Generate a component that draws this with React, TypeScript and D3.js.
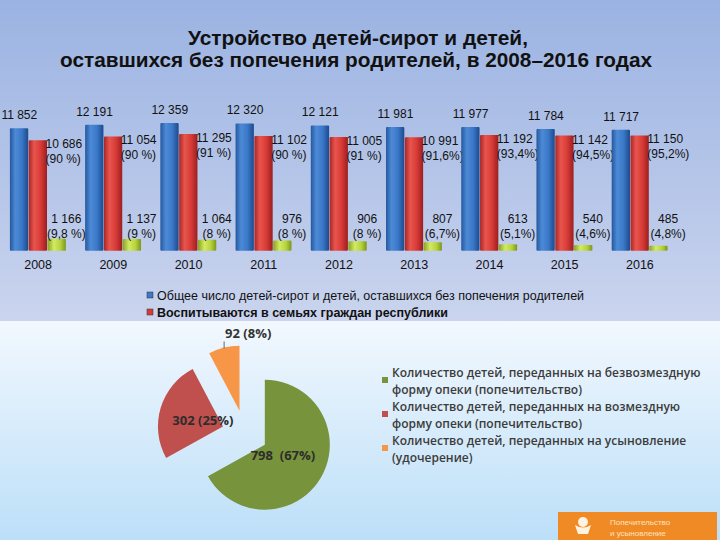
import React from 'react';
import * as d3 from 'd3';

// bar chart data
const years = ['2008', '2009', '2010', '2011', '2012', '2013', '2014', '2015', '2016'];
const totalOrphans = [11852, 12191, 12359, 12320, 12121, 11981, 11977, 11784, 11717];
const inFamilies = [10686, 11054, 11295, 11102, 11005, 10991, 11192, 11142, 11150];
const inFamiliesShare = ['(90 %)', '(90 %)', '(91 %)', '(90 %)', '(91 %)', '(91,6%)', '(93,4%)', '(94,5%)', '(95,2%)'];
const inInstitutions = [1166, 1137, 1064, 976, 906, 807, 613, 540, 485];
const inInstitutionsShare = ['(9,8 %)', '(9 %)', '(8 %)', '(8 %)', '(8 %)', '(6,7%)', '(5,1%)', '(4,6%)', '(4,8%)'];
const barLegend = [
  'Общее число детей-сирот и детей, оставшихся без попечения родителей',
  'Воспитываются в семьях граждан республики',
];
const titleLines = ['Устройство детей-сирот и детей,', 'оставшихся без попечения родителей, в 2008–2016 годах'];

// pie data
const placementCounts = [798, 302, 92];
const placementLegend = [
  ['Количество детей, переданных на безвозмездную', 'форму опеки (попечительство)'],
  ['Количество детей, переданных на возмездную', 'форму опеки (попечительство)'],
  ['Количество детей, переданных на усыновление', '(удочерение)'],
];

const W = 720;
const H = 540;
const fmt = d3.formatLocale({ decimal: ',', thousands: ' ', grouping: [3], currency: ['', ''] }).format(',');

const barColors = ['blue', 'red', 'green'];
const pieColors = ['#77933c', '#c0504d', '#f79646'];

export default function App() {
  const x0 = d3.scaleBand().domain(years).range([0.5, 677.5]).paddingInner(0.25).paddingOuter(0.125);
  const x1 = d3.scaleBand().domain(['0', '1', '2']).range([0, x0.bandwidth()]);
  const y = d3.scaleLinear().domain([0, 12359]).range([250.7, 123]);
  const series = [totalOrphans, inFamilies, inInstitutions];

  // pie
  const cx = 245;
  const cy = 433;
  const r = 65;
  const explode = 23;
  const pie = d3.pie<number>().sort(null).value(d => d);
  const arcs = pie(placementCounts);
  const arc = d3.arc<d3.PieArcDatum<number>>().innerRadius(0).outerRadius(r);
  const labelArc = d3.arc<d3.PieArcDatum<number>>().innerRadius(21).outerRadius(21);
  const outerArc = d3.arc<d3.PieArcDatum<number>>().innerRadius(r - 1).outerRadius(r - 1);
  const total = d3.sum(placementCounts);

  return (
    <svg width={W} height={H} style={{ position: 'absolute', left: 0, top: 0 }} fontFamily="'Liberation Sans', Arial, sans-serif">
      <defs>
        <linearGradient id="bgTop" x1="0" y1="0" x2="0" y2="1">
          <stop offset="0" stopColor="#9bb3e2" />
          <stop offset="1" stopColor="#cad4ee" />
        </linearGradient>
        <linearGradient id="bgBottom" x1="0" y1="0" x2="0" y2="1">
          <stop offset="0" stopColor="#f2f8fe" />
          <stop offset="1" stopColor="#bcdff8" />
        </linearGradient>
        <linearGradient id="blue" x1="0" y1="0" x2="1" y2="0">
          <stop offset="0" stopColor="#24589f" />
          <stop offset="0.3" stopColor="#4d8ad6" />
          <stop offset="0.65" stopColor="#3a78c8" />
          <stop offset="1" stopColor="#1d4a8c" />
        </linearGradient>
        <linearGradient id="red" x1="0" y1="0" x2="1" y2="0">
          <stop offset="0" stopColor="#a82626" />
          <stop offset="0.3" stopColor="#e8554d" />
          <stop offset="0.65" stopColor="#d83b37" />
          <stop offset="1" stopColor="#9a1f1f" />
        </linearGradient>
        <linearGradient id="green" x1="0" y1="0" x2="1" y2="0">
          <stop offset="0" stopColor="#86a322" />
          <stop offset="0.35" stopColor="#d3ea62" />
          <stop offset="0.7" stopColor="#b6d33e" />
          <stop offset="1" stopColor="#7b971c" />
        </linearGradient>
      </defs>

      <rect x={0} y={0} width={W} height={321} fill="url(#bgTop)" />
      <rect x={0} y={321} width={W} height={H - 321} fill="url(#bgBottom)" />

      <text x={358} y={45} textAnchor="middle" fontSize={21} fontWeight="bold" fill="#111" textLength={340} lengthAdjust="spacingAndGlyphs">
        {titleLines[0]}
      </text>
      <text x={356} y={67} textAnchor="middle" fontSize={21} fontWeight="bold" fill="#111" textLength={592} lengthAdjust="spacingAndGlyphs">
        {titleLines[1]}
      </text>

      {years.map((yr, i) => {
        const gx = x0(yr)!;
        return (
          <g key={yr} transform={`translate(${gx},0)`} fontSize={12} fill="#111">
            {series.map((s, k) => (
              <rect
                key={k}
                x={x1(String(k))!}
                y={y(s[i])}
                width={x1.bandwidth() - 0.5}
                height={y(0) - y(s[i])}
                fill={`url(#${barColors[k]})`}
                rx={1}
              />
            ))}
            <text x={x1('0')! + x1.bandwidth() / 2} y={y(totalOrphans[i]) - 9} textAnchor="middle">
              {fmt(totalOrphans[i])}
            </text>
            <text x={x1('1')! + x1.bandwidth() - 2} y={y(inFamilies[i]) + 8}>
              {fmt(inFamilies[i])}
            </text>
            <text x={x1('1')! + x1.bandwidth() - 2} y={y(inFamilies[i]) + 23}>
              {inFamiliesShare[i]}
            </text>
            <text x={x1('2')! + x1.bandwidth()} y={y(0) - 28} textAnchor="middle">
              {fmt(inInstitutions[i])}
            </text>
            <text x={x1('2')! + x1.bandwidth()} y={y(0) - 13} textAnchor="middle">
              {inInstitutionsShare[i]}
            </text>
            <text x={x0.bandwidth() / 2} y={269} textAnchor="middle" fontSize={12.5}>
              {yr}
            </text>
          </g>
        );
      })}

      {barLegend.map((name, i) => (
        <g key={name} transform={`translate(147,${295 + i * 17})`}>
          <rect x={0} y={-3} width={6} height={6} fill={i === 0 ? '#3a78c8' : '#d83b37'} stroke="#333" strokeWidth={0.5} />
          <text x={10} y={4.5} fontSize={12.5} fontWeight={i === 1 ? 'bold' : 'normal'} fill="#111">
            {name}
          </text>
        </g>
      ))}

      {arcs.map((a, i) => {
        const mid = (a.startAngle + a.endAngle) / 2;
        const dx = Math.sin(mid) * explode;
        const dy = -Math.cos(mid) * explode;
        return (
          <g key={i} transform={`translate(${cx + dx},${cy + dy})`}>
            <path d={arc(a)!} fill={pieColors[i]} />
          </g>
        );
      })}
      {arcs.map((a, i) => {
        const mid = (a.startAngle + a.endAngle) / 2;
        const dx = cx + Math.sin(mid) * explode;
        const dy = cy - Math.cos(mid) * explode;
        const pct = Math.round((placementCounts[i] / total) * 100);
        const label = `${placementCounts[i]} (${pct}%)`;
        if (i === 2) {
          const [ox, oy] = outerArc.centroid(a);
          return (
            <g key={i} fontFamily="'Open Sans', sans-serif">
              <line x1={dx + ox} y1={dy + oy} x2={dx + ox} y2={dy + oy - 7} stroke="#5a6a7a" strokeWidth={1} />
              <text x={dx + ox + 1} y={dy + oy - 11} fontSize={13} fontWeight="bold" fill="#333">
                {label}
              </text>
            </g>
          );
        }
        const [lx, ly] = labelArc.centroid(a);
        return (
          <text key={i} x={dx + lx} y={dy + ly + 4.5} textAnchor="middle" fontSize={13} fontWeight="bold" fill="#2d2d2d" fontFamily="'Open Sans', sans-serif">
            {i === 0 ? `${placementCounts[i]}\u00a0 (${pct}%)` : label}
          </text>
        );
      })}

      {placementLegend.map((lines, i) => (
        <g key={i} transform={`translate(382,${377 + i * 34})`} fontFamily="'Open Sans', sans-serif">
          <rect x={0} y={0} width={6} height={6} fill={pieColors[i]} />
          {lines.map((ln, j) => (
            <text key={j} x={10} y={j * 17} fontSize={12} fontWeight={600} fill="#3c3c3c">
              {ln}
            </text>
          ))}
        </g>
      ))}

      <g transform="translate(558,512)">
        <rect x={0} y={0} width={159} height={30} fill="#f08a24" />
        <circle cx={25} cy={10} r={5} fill="#fdf3e0" />
        <path d="M17,13 Q25,18 33,13 L30,22 L20,22 Z" fill="#fdf3e0" />
        <text x={52} y={13} fontSize={8} fill="#fde3c0">Попечительство</text>
        <text x={52} y={24} fontSize={8} fill="#fde3c0">и усыновление</text>
      </g>
    </svg>
  );
}
